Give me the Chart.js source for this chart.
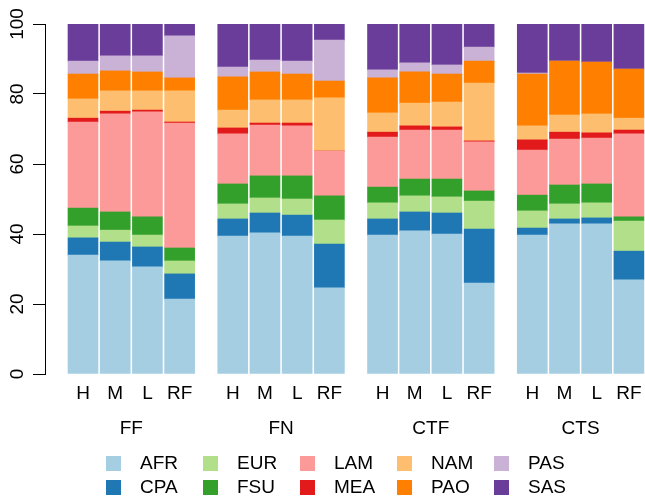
<!DOCTYPE html>
<html><head><meta charset="utf-8">
<script src="https://cdn.jsdelivr.net/npm/chart.js@4/dist/chart.umd.min.js"></script>
<style>html,body{margin:0;padding:0;background:#fff}canvas{display:block}</style>
</head><body>
<canvas id="c" width="645" height="500"></canvas>
<script>
// ---- data ----
const groups = ['FF', 'FN', 'CTF', 'CTS'];
const scenarios = ['H', 'M', 'L', 'RF'];
const regions = ['AFR', 'CPA', 'EUR', 'FSU', 'LAM', 'MEA', 'NAM', 'PAO', 'PAS', 'SAS'];
const colors = ['#A6CEE3', '#1F78B4', '#B2DF8A', '#33A02C', '#FB9A99', '#E31A1C', '#FDBF6F', '#FF7F00', '#CAB2D6', '#6A3D9A'];
// each array: FF(H,M,L,RF), FN(H,M,L,RF), CTF(H,M,L,RF), CTS(H,M,L,RF)
const AFR = [34.0, 32.3, 30.6, 21.4, 39.4, 40.3, 39.4, 24.6, 39.7, 40.9, 40.0, 26.0, 39.7, 42.9, 42.9, 26.9];
const CPA = [4.9, 5.4, 5.7, 7.2, 4.9, 5.7, 6.0, 12.5, 4.6, 5.4, 6.0, 15.4, 2.0, 1.4, 1.7, 8.2];
const EUR = [3.4, 3.4, 3.4, 3.7, 4.3, 4.3, 4.6, 6.9, 4.6, 4.6, 4.6, 8.0, 4.9, 4.3, 4.3, 8.6];
const FSU = [5.1, 5.2, 5.2, 3.7, 5.7, 6.3, 6.6, 6.9, 4.5, 4.8, 5.1, 2.9, 4.5, 5.4, 5.4, 1.2];
const LAM = [24.6, 28.0, 30.0, 35.7, 14.3, 14.5, 14.3, 12.8, 14.3, 14.0, 14.0, 14.0, 12.9, 13.1, 13.1, 23.7];
const MEA = [1.1, 0.8, 0.5, 0.3, 1.7, 0.6, 0.8, 0.0, 1.4, 1.2, 0.9, 0.3, 2.9, 2.0, 1.5, 1.1];
const NAM = [5.5, 5.8, 5.5, 8.9, 5.1, 6.6, 6.6, 15.2, 5.5, 6.5, 7.1, 16.5, 4.0, 4.9, 5.4, 3.4];
const PAO = [7.1, 5.7, 5.4, 3.7, 9.5, 8.0, 7.4, 4.8, 10.0, 8.9, 8.0, 6.3, 14.8, 15.4, 14.8, 14.0];
const PAS = [3.7, 4.3, 4.6, 12.0, 2.8, 3.4, 3.7, 11.7, 2.3, 2.6, 2.6, 4.0, 0.3, 0.0, 0.0, 0.0];
const SAS = [10.6, 9.1, 9.1, 3.4, 12.3, 10.3, 10.6, 4.6, 13.1, 11.1, 11.7, 6.6, 14.0, 10.6, 10.9, 12.9];
const yTicks = [0, 20, 40, 60, 80, 100];
const seriesValues = [AFR, CPA, EUR, FSU, LAM, MEA, NAM, PAO, PAS, SAS];

// ---- layout ----
const GROUP_STEP = 4.65;
const X_MIN = -1.18, X_MAX = 17.45;
const FONT = '"Liberation Sans", Arial, Helvetica, sans-serif';
const FS = 19;

const xPos = [];
groups.forEach((g, gi) => scenarios.forEach((s, si) => xPos.push(gi * GROUP_STEP + si)));
const groupCenters = groups.map((g, gi) => gi * GROUP_STEP + 1.5);

const datasets = regions.map((r, k) => ({
  label: r,
  data: seriesValues[k].map((v, i) => ({ x: xPos[i], y: v })),
  backgroundColor: colors[k],
  borderWidth: 0,
  barThickness: 30
}));

const legendPlugin = {
  id: 'gridLegend',
  afterDraw(chart) {
    const ctx = chart.ctx;
    ctx.save();
    ctx.font = FS + 'px ' + FONT;
    ctx.textBaseline = 'middle';
    ctx.textAlign = 'left';
    chart.data.datasets.forEach((ds, k) => {
      const col = Math.floor(k / 2), row = k % 2;
      const x = 106 + 97 * col;
      const yc = 463.5 + 24 * row;
      ctx.fillStyle = ds.backgroundColor;
      ctx.fillRect(x, yc - 7.5, 15, 15);
      ctx.fillStyle = '#000';
      ctx.fillText(ds.label, x + 34, yc);
    });
    ctx.restore();
  }
};

Chart.defaults.font.family = FONT;
Chart.defaults.font.size = FS;
Chart.defaults.color = '#000';

new Chart(document.getElementById('c'), {
  type: 'bar',
  data: { datasets },
  options: {
    responsive: false,
    animation: false,
    devicePixelRatio: 1,
    layout: { padding: { top: 24, bottom: 54, left: 0, right: 0 } },
    plugins: { legend: { display: false }, tooltip: { enabled: false } },
    scales: {
      x: {
        type: 'linear', stacked: true, min: X_MIN, max: X_MAX, offset: false,
        grid: { display: false, drawTicks: false }, border: { display: false },
        afterBuildTicks(s) { s.ticks = xPos.map(v => ({ value: v })); },
        afterFit(s) { s.height = 36; s.paddingLeft = 0; s.paddingRight = 0; },
        ticks: { autoSkip: false, maxRotation: 0, minRotation: 0, padding: 8, color: '#000',
          callback: (v, i) => scenarios[i % scenarios.length] }
      },
      x2: {
        type: 'linear', position: 'bottom', min: X_MIN, max: X_MAX, offset: false,
        grid: { display: false, drawTicks: false }, border: { display: false },
        afterBuildTicks(s) { s.ticks = groupCenters.map(v => ({ value: v })); },
        afterFit(s) { s.height = 36; s.paddingLeft = 0; s.paddingRight = 0; },
        ticks: { autoSkip: false, maxRotation: 0, minRotation: 0, padding: 7, color: '#000',
          callback: (v, i) => groups[i] }
      },
      y: {
        stacked: true, min: 0, max: 100, position: 'left',
        afterBuildTicks(s) { s.ticks = yTicks.map(v => ({ value: v })); },
        afterFit(s) { s.width = 45; s.paddingTop = 0; s.paddingBottom = 0; },
        border: { display: true, color: '#000', width: 1 },
        grid: { drawOnChartArea: false, drawTicks: true, tickLength: 12, color: '#000', lineWidth: 1 },
        ticks: { minRotation: 90, maxRotation: 90, crossAlign: 'center', padding: -1, color: '#000' }
      }
    }
  },
  plugins: [legendPlugin]
});
</script>
</body></html>
